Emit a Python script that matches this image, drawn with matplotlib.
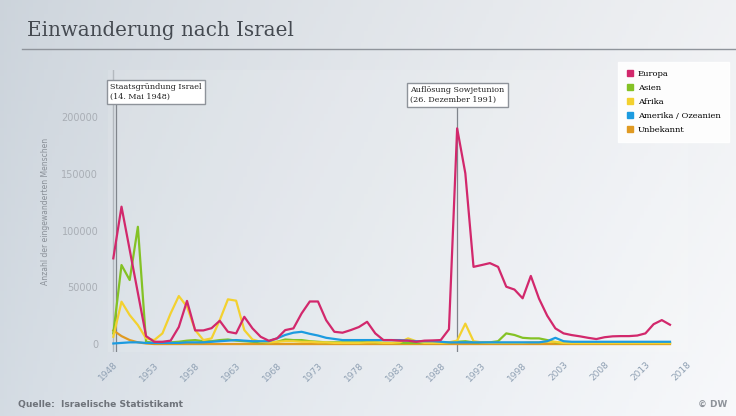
import numpy as np
import matplotlib.pyplot as plt
from matplotlib.lines import Line2D

# Einwanderung nach Israel, nach Herkunft
years = list(range(1948, 2017))

europa = [75500, 121000, 83000, 45000, 7000, 2000, 2000, 3000, 15000, 38000,
          12000, 12000, 14000, 20500, 10800, 9400, 24000, 13800, 6400, 2900,
          5000, 12300, 13800, 27000, 37500, 37500, 21000, 10800, 10000, 12300,
          15000, 19600, 9400, 3500, 3500, 3000, 3000, 2000, 3000, 3200,
          3500, 13000, 190000, 150400, 68000, 69600, 71300, 68000, 50500, 48000,
          40300, 60000, 40000, 25000, 13800, 9400, 7900, 6800, 5500, 4400,
          6000, 6800, 7000, 7000, 7500, 9400, 17500, 21100, 17000]

asien = [9400, 69600, 56400, 103300, 2000, 1000, 1000, 1500, 2000, 3000,
         3500, 2500, 2500, 3500, 4000, 3000, 2500, 2000, 1500, 1500,
         2000, 4000, 3500, 3500, 2500, 2000, 1500, 1500, 1500, 1500,
         1500, 2000, 1500, 1000, 1000, 1000, 1000, 1000, 1000, 1000,
         1000, 1500, 2000, 2500, 1500, 1500, 1500, 2500, 9400, 8000,
         5500, 5000, 5000, 3500, 1500, 1000, 1000, 1000, 1000, 1000,
         1000, 1000, 1000, 1000, 1000, 1000, 1000, 1000, 1000]

afrika = [6400, 37300, 25500, 16700, 5000, 3500, 9400, 27000, 42300, 32900,
          12300, 3500, 5000, 21000, 39400, 38200, 12300, 4000, 2000, 1500,
          2000, 2500, 2500, 2000, 2000, 1500, 1500, 1000, 1000, 1000,
          1000, 1500, 1500, 1000, 1000, 1500, 5000, 2500, 1000, 1000,
          1000, 1500, 3000, 18000, 2500, 1500, 1000, 1000, 1000, 1000,
          1000, 1500, 1500, 2000, 2000, 1000, 800, 800, 800, 800,
          800, 800, 800, 800, 800, 800, 800, 800, 800]

amerika = [500, 1000, 1500, 1500, 1000, 1000, 1000, 1000, 1000, 1500,
           1500, 1500, 2000, 2500, 3000, 3500, 3000, 2500, 2500, 2500,
           5000, 8000, 10000, 10800, 9000, 7500, 5500, 4500, 3500, 3500,
           3500, 3500, 3500, 3500, 3500, 3500, 3000, 2500, 2500, 2500,
           2000, 1500, 1500, 1500, 1500, 1500, 1500, 1500, 1500, 1500,
           1500, 1500, 1500, 2500, 5500, 2500, 2000, 2000, 2000, 2000,
           2000, 2000, 2000, 2000, 2000, 2000, 2000, 2000, 2000]

unbekannt = [12000, 7000, 3500, 1500, 500, 0, 0, 0, 0, 0,
             0, 0, 0, 0, 0, 0, 0, 0, 0, 0,
             0, 0, 0, 0, 0, 0, 0, 0, 0, 0,
             0, 0, 0, 0, 0, 0, 0, 0, 0, 0,
             0, 0, 0, 0, 0, 0, 0, 0, 0, 0,
             0, 0, 0, 0, 0, 0, 0, 0, 0, 0,
             0, 0, 0, 0, 0, 0, 0, 0, 0]

series = [
    ("Europa", europa, "#d2286c"),
    ("Asien", asien, "#84c225"),
    ("Afrika", afrika, "#f3d12f"),
    ("Amerika / Ozeanien", amerika, "#1c9be0"),
    ("Unbekannt", unbekannt, "#e09a22"),
]
draw_order = [4, 1, 2, 3, 0]   # Unbekannt unten, Europa oben

xticks = list(range(1948, 2019, 5))
yticks = [0, 50000, 100000, 150000, 200000]

fig = plt.figure(figsize=(7.36, 4.16), dpi=100)

# hintergrund mit leichtem verlauf
bg = fig.add_axes([0, 0, 1, 1], zorder=-5)
gx = np.linspace(0, 1, 200)
gy = np.linspace(0, 1, 120)
GX, GY = np.meshgrid(gx, gy)
left_c = np.array([0.80, 0.83, 0.86])
right_c = np.array([0.94, 0.945, 0.955])
img = left_c + (right_c - left_c) * (GX[..., None] ** 0.8)
img = img + 0.03 * GY[..., None]  # unten etwas heller
img = np.clip(img, 0, 1)
bg.imshow(img, aspect='auto', extent=[0, 1, 0, 1], origin='upper')
bg.axis('off')

ax = fig.add_axes([108 / 736, 64 / 416, 580 / 736, 282 / 416])
ax.set_facecolor((1, 1, 1, 0.1))

for i in draw_order:
    name, vals, col = series[i]
    ax.plot(years, vals, color=col, lw=1.6, label=name, solid_joinstyle='round')

ax.set_xlim(1947.35, 2018.2)
ax.set_ylim(-7000, 241400)

for s in ax.spines.values():
    s.set_visible(False)
ax.tick_params(length=0)
ax.set_xticks(xticks)
ax.set_xticklabels([str(x) for x in xticks], rotation=45, ha='right',
                   rotation_mode='anchor', fontsize=6.5, color='#8fa0b3')
ax.set_yticks(yticks)
ax.set_yticklabels([str(y) for y in yticks], fontsize=7, color='#a9aeb5')
ax.tick_params(axis='y', pad=7)
ax.tick_params(axis='x', pad=6)
ax.set_ylabel("Anzahl der eingewanderten Menschen", fontsize=5.5,
              color='#8a9098', labelpad=8)

# ereignisse
ax.axvline(1947.9, color='#b4b9bf', lw=1, zorder=0)
ax.plot([1948.35, 1948.35], [-7000, 225000], color='#80858c', lw=0.9, zorder=1)
ax.text(1947.6, 222000, "Staatsgründung Israel\n(14. Mai 1948)", fontsize=5.8,
        family='DejaVu Serif', color='#222222', ha='left', va='center',
        multialignment='left', linespacing=1.2,
        bbox=dict(boxstyle='square,pad=0.42', fc='white', ec='#8e939a', lw=1))
ax.plot([1990, 1990], [-7000, 215000], color='#80858c', lw=0.9, zorder=1)
ax.text(1990, 219500, "Auflösung Sowjetunion\n(26. Dezember 1991)", fontsize=5.8,
        family='DejaVu Serif', color='#222222', ha='center', va='center',
        multialignment='left', linespacing=1.2,
        bbox=dict(boxstyle='square,pad=0.42', fc='white', ec='#8e939a', lw=1))

handles = [Line2D([], [], marker='s', ls='', color=c, markersize=4.5)
           for _, _, c in series]
labels = [n for n, _, _ in series]
leg = fig.legend(handles, labels, loc='upper left',
                 bbox_to_anchor=(618 / 736, 1 - 62 / 416),
                 frameon=True, fancybox=False,
                 handlelength=0.8, handletextpad=0.6, labelspacing=0.7,
                 borderpad=1.0, borderaxespad=0,
                 prop={'family': 'DejaVu Serif', 'size': 6.0})
leg.get_frame().set_facecolor('white')
leg.get_frame().set_edgecolor('white')
leg.get_frame().set_alpha(0.9)

# titel und fusszeile
fig.text(27 / 736, 1 - 31 / 416, "Einwanderung nach Israel", fontsize=14.3,
         family='DejaVu Serif', color='#454a51', va='center', ha='left')
fig.add_artist(Line2D([22 / 736, 1], [1 - 49 / 416, 1 - 49 / 416],
                      color='#8f949b', lw=1))
fig.text(18 / 736, 1 - 404 / 416, "Quelle:  Israelische Statistikamt", fontsize=6.6,
         fontweight='bold', color='#6e737a', va='center', ha='left')
fig.text(727 / 736, 1 - 404 / 416, "© DW", fontsize=6.4, fontweight='bold',
         color='#8e939a', va='center', ha='right')

fig.savefig('out.png', dpi=100)
